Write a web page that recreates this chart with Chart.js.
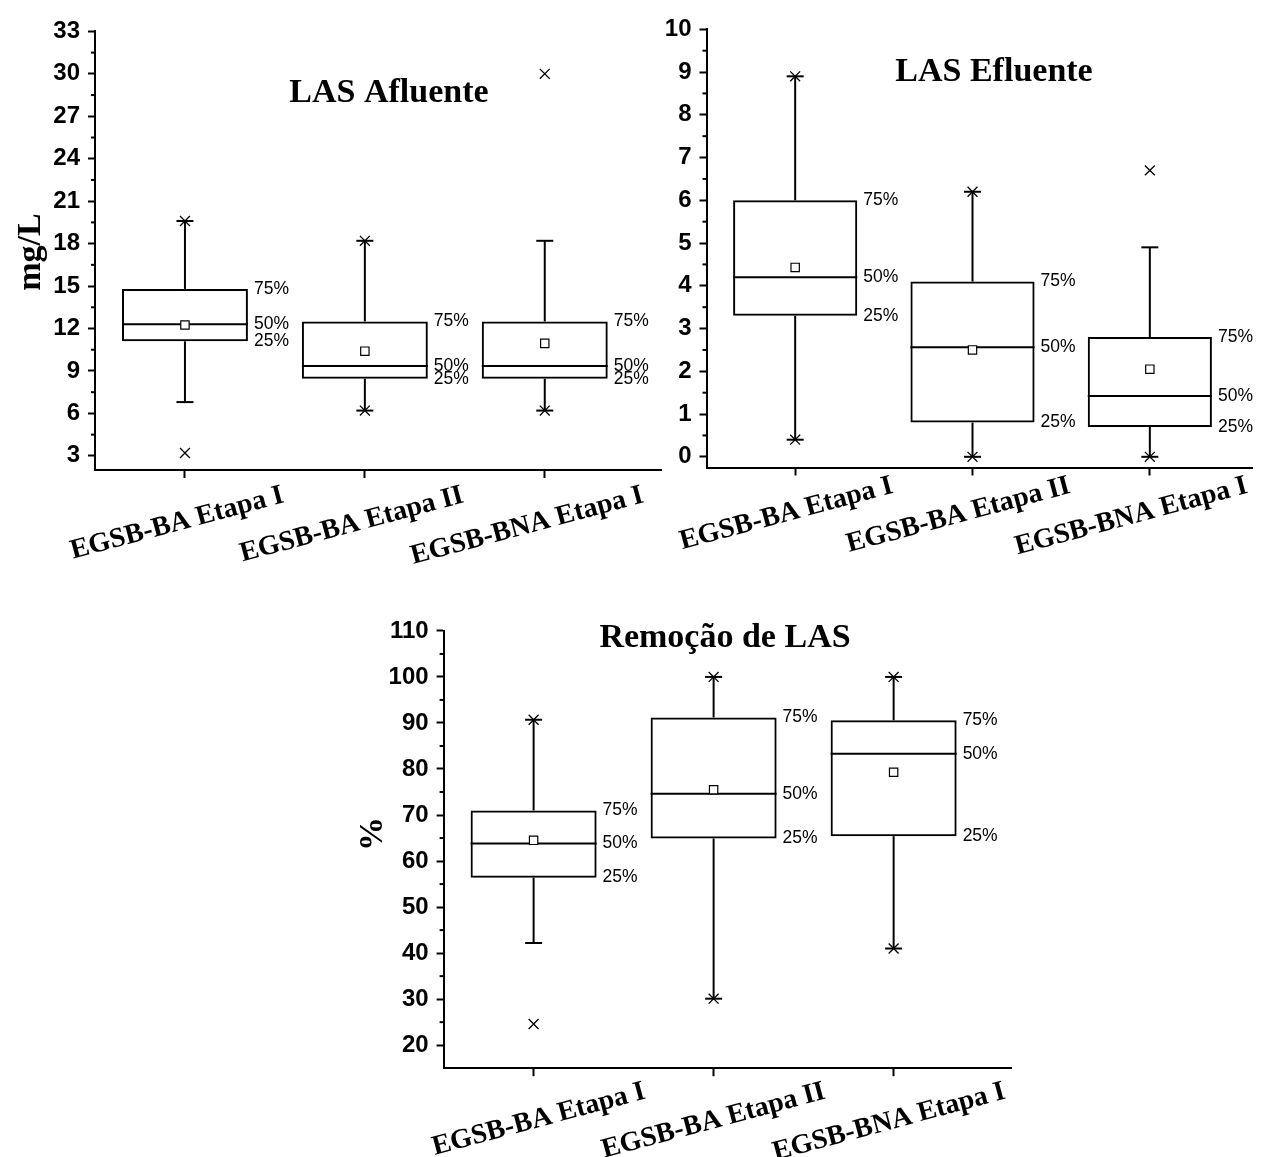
<!DOCTYPE html>
<html>
<head>
<meta charset="utf-8">
<script src="https://cdn.jsdelivr.net/npm/chart.js@4/dist/chart.umd.min.js"></script>
<style>
body{margin:0;background:#fff;width:1261px;height:1157px;overflow:hidden;position:relative}
canvas{position:absolute}
</style>
</head>
<body>
<canvas id="c1" width="670" height="570" style="left:0;top:0"></canvas>
<canvas id="c2" width="661" height="570" style="left:600px;top:0"></canvas>
<canvas id="c3" width="690" height="567" style="left:340px;top:590px"></canvas>
<script>
const categories=["EGSB-BA Etapa I","EGSB-BA Etapa II","EGSB-BNA Etapa I"];
const positions=[1,2,3];
const pctLabels=["75%","50%","25%"];

// LAS Afluente (mg/L)
const afQ1=[11.1,8.45,8.45];
const afMedian=[12.3,9.35,9.35];
const afQ3=[14.8,12.5,12.5];
const afMean=[12.25,10.4,10.95];
const afLow=[6.8,6.2,6.2];
const afHigh=[19.6,18.2,18.2];
const afCross=[[19.6,3.2],[18.2,6.2],[30.0,6.2]];
const afTicks=[3,6,9,12,15,18,21,24,27,30,33];

// LAS Efluente (mg/L)
const efQ1=[3.3,0.8,0.7];
const efMedian=[4.2,2.56,1.42];
const efQ3=[6.0,4.1,2.8];
const efMean=[4.43,2.5,2.05];
const efLow=[0.4,0,0];
const efHigh=[8.9,6.2,4.9];
const efCross=[[8.9,0.4],[6.2,0],[6.7,0]];
const efTicks=[0,1,2,3,4,5,6,7,8,9,10];

// Remoção de LAS (%)
const reQ1=[56.4,64.9,65.4];
const reMedian=[63.8,74.6,83.3];
const reQ3=[71.0,91.2,90.6];
const reMean=[64.5,75.5,79.3];
const reLow=[42.2,30.1,41.0];
const reHigh=[90.7,100,100];
const reCross=[[90.7,24.6],[100,30.1],[100,41.0]];
const reTicks=[20,30,40,50,60,70,80,90,100,110];

const SERIF='"Liberation Serif","Times New Roman",serif';
const SANS='"Liberation Sans",Arial,sans-serif';

const boxExtras={
    id:"boxExtras",
    beforeDatasetsDraw(chart,args,o){
        const ctx=chart.ctx,x=chart.scales.x,y=chart.scales.y;
        const bars=chart.getDatasetMeta(0).data;
        ctx.save();
        ctx.strokeStyle="#000";ctx.lineWidth=2;
        const seg=(x1,y1,x2,y2)=>{ctx.beginPath();ctx.moveTo(x1,y1);ctx.lineTo(x2,y2);ctx.stroke();};
        positions.forEach((p,i)=>{
            const cx=x.getPixelForValue(p),hw=bars[i].width/2;
            seg(cx,y.getPixelForValue(o.q1[i]),cx,y.getPixelForValue(o.low[i]));
            seg(cx,y.getPixelForValue(o.q3[i]),cx,y.getPixelForValue(o.high[i]));
            seg(cx-8.5,y.getPixelForValue(o.low[i]),cx+8.5,y.getPixelForValue(o.low[i]));
            seg(cx-8.5,y.getPixelForValue(o.high[i]),cx+8.5,y.getPixelForValue(o.high[i]));
            seg(cx-hw,y.getPixelForValue(o.median[i]),cx+hw,y.getPixelForValue(o.median[i]));
        });
        // minor ticks on y axis
        const ax=chart.chartArea.left;
        for(let k=0;k<o.ticks.length-1;k++){
            const py=y.getPixelForValue((o.ticks[k]+o.ticks[k+1])/2);
            seg(ax-4,py,ax,py);
        }
        ctx.restore();
    },
    afterDraw(chart,args,o){
        const ctx=chart.ctx,x=chart.scales.x,y=chart.scales.y,a=chart.chartArea;
        const bars=chart.getDatasetMeta(0).data;
        ctx.save();
        ctx.fillStyle="#000";
        // percentile labels
        ctx.font="17.5px "+SANS;
        ctx.textAlign="left";ctx.textBaseline="middle";
        positions.forEach((p,i)=>{
            const lx=bars[i].x+bars[i].width/2+6;
            [o.q3[i],o.median[i],o.q1[i]].forEach((v,k)=>ctx.fillText(pctLabels[k],lx,y.getPixelForValue(v)));
        });
        // category labels
        ctx.font="bold 28px "+SERIF;
        ctx.textAlign="right";ctx.textBaseline="alphabetic";
        positions.forEach((p,i)=>{
            ctx.save();
            ctx.translate(x.getPixelForValue(p)+o.labelDx,a.bottom+o.labelDy);
            ctx.rotate(-15*Math.PI/180);
            ctx.fillText(categories[i],0,0);
            ctx.restore();
        });
        // title
        ctx.font="bold 34px "+SERIF;
        ctx.textAlign="center";ctx.textBaseline="middle";
        ctx.fillText(o.title,a.left+o.titleDx,a.top+o.titleDy);
        if(o.yTitle){
            ctx.save();
            ctx.translate(o.yTitleX,o.yTitleY);
            ctx.rotate(-Math.PI/2);
            ctx.fillText(o.yTitle,0,0);
            ctx.restore();
        }
        ctx.restore();
    }
};

function makeChart(id,d){
    return new Chart(document.getElementById(id),{
        type:"bar",
        plugins:[boxExtras],
        data:{datasets:[
            {type:"bar",order:2,data:positions.map((p,i)=>({x:p,y:[d.q1[i],d.q3[i]]})),
             backgroundColor:"rgba(0,0,0,0)",borderColor:"#000",borderWidth:2,borderSkipped:false,
             barPercentage:0.7,categoryPercentage:1},
            {type:"scatter",order:1,data:positions.flatMap((p,i)=>d.cross[i].map(v=>({x:p,y:v}))),
             pointStyle:"crossRot",pointRadius:7,borderColor:"#000",borderWidth:1.3},
            {type:"scatter",order:0,data:positions.map((p,i)=>({x:p,y:d.mean[i]})),
             pointStyle:"rect",pointRadius:5.9,backgroundColor:"#fff",borderColor:"#000",borderWidth:1.2}
        ]},
        options:{
            responsive:false,animation:false,devicePixelRatio:1,events:[],
            layout:{padding:{left:0,top:d.padTop,right:d.padRight,bottom:0}},
            plugins:{legend:{display:false},tooltip:{enabled:false},
                boxExtras:{q1:d.q1,q3:d.q3,median:d.median,low:d.low,high:d.high,ticks:d.ticks,
                    title:d.title,titleDx:d.titleDx,titleDy:d.titleDy,
                    yTitle:d.yTitle,yTitleX:d.yTitleX,yTitleY:d.yTitleY,
                    labelDx:d.labelDx,labelDy:d.labelDy}},
            scales:{
                x:{type:"linear",min:0.5,max:d.xMax,offset:false,bounds:"ticks",
                   afterBuildTicks:s=>{s.ticks=positions.map(v=>({value:v}))},
                   afterFit:s=>{s.height=d.xHeight},
                   ticks:{display:false},
                   grid:{offset:false,drawOnChartArea:false,tickLength:8,tickWidth:2,tickColor:"#000"},
                   border:{color:"#000",width:2}},
                y:{type:"linear",min:d.yMin,max:d.yMax,
                   afterBuildTicks:s=>{s.ticks=d.ticks.map(v=>({value:v}))},
                   afterFit:s=>{s.width=d.yWidth},
                   ticks:{color:"#000",padding:8,autoSkip:false,font:{family:SANS,size:24,weight:"bold"}},
                   grid:{drawOnChartArea:false,tickLength:7,tickWidth:2,tickColor:"#000"},
                   border:{color:"#000",width:2}}
            }
        }
    });
}

makeChart("c1",{q1:afQ1,median:afMedian,q3:afQ3,mean:afMean,low:afLow,high:afHigh,cross:afCross,ticks:afTicks,
    yMin:2,yMax:33,xMax:3.65,padTop:31.4,padRight:8,xHeight:100,yWidth:95,
    title:"LAS Afluente",titleDx:294,titleDy:62,yTitle:"mg/L",yTitleX:31,yTitleY:252,labelDx:100,labelDy:32});
makeChart("c2",{q1:efQ1,median:efMedian,q3:efQ3,mean:efMean,low:efLow,high:efHigh,cross:efCross,ticks:efTicks,
    yMin:-0.25,yMax:10,xMax:3.58,padTop:29.3,padRight:0,xHeight:102.5,yWidth:106.5,
    title:"LAS Efluente",titleDx:287.5,titleDy:42.5,yTitle:"",labelDx:99,labelDy:25});
makeChart("c3",{q1:reQ1,median:reMedian,q3:reQ3,mean:reMean,low:reLow,high:reHigh,cross:reCross,ticks:reTicks,
    yMin:15,yMax:110,xMax:3.657,padTop:40.9,padRight:18.1,xHeight:88.8,yWidth:103.6,
    title:"Remoção de LAS",titleDx:281.4,titleDy:7,yTitle:"%",yTitleX:33,yTitleY:244,labelDx:113,labelDy:30});
</script>
</body>
</html>
